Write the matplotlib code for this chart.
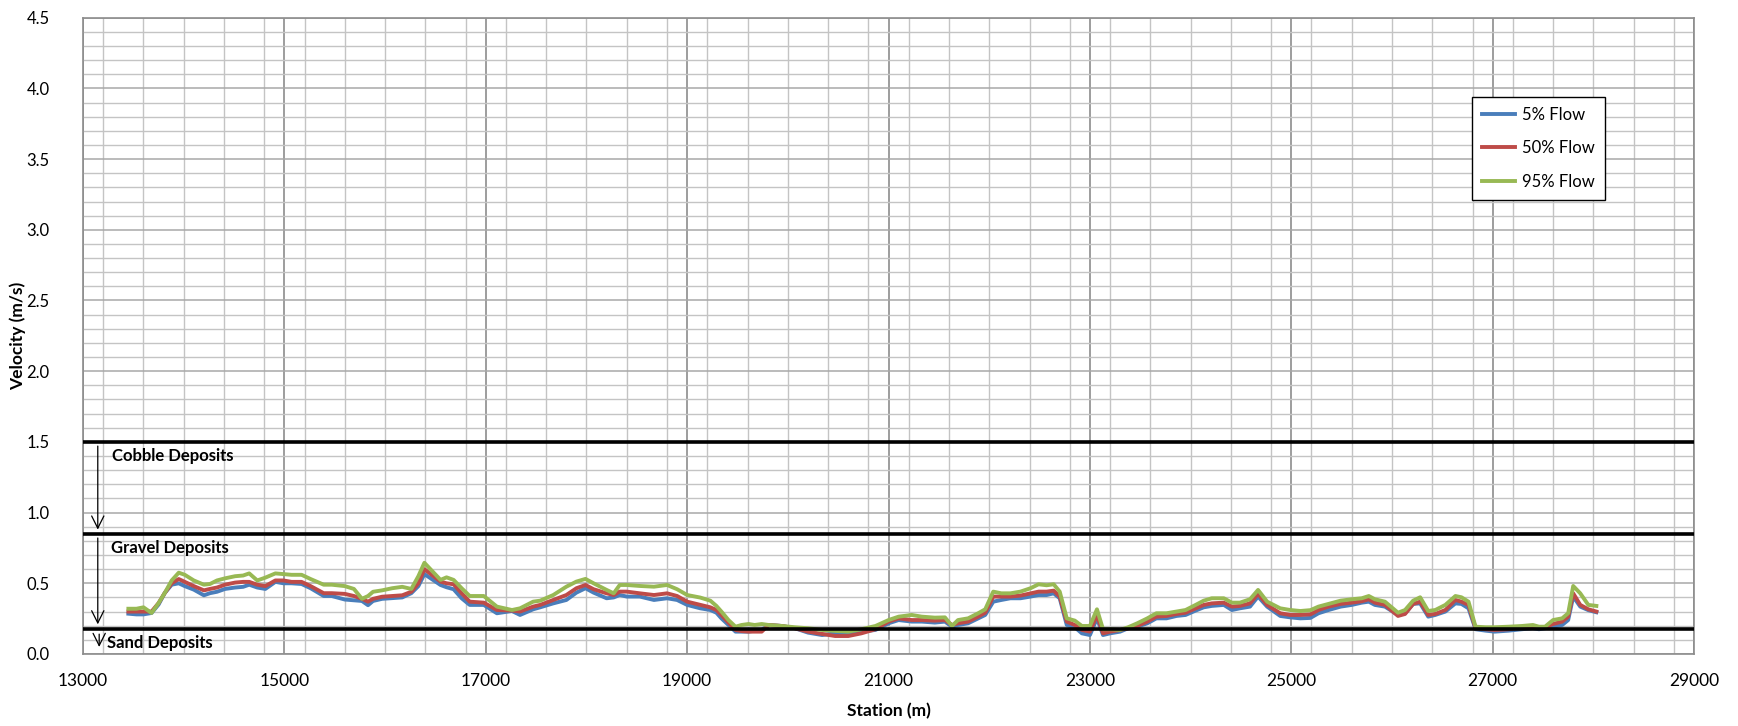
import numpy as np
import matplotlib
matplotlib.use("Agg")
import matplotlib.pyplot as plt
from matplotlib.ticker import MultipleLocator, FormatStrFormatter

plt.rcParams['font.family'] = ['Lato', 'DejaVu Sans']

# Estaciones (m) y velocidades (m/s)
estaciones = [13450, 13530, 13600, 13680, 13750, 13810, 13880, 13950, 14010, 14100,
              14200, 14260, 14330, 14410, 14510, 14590, 14650, 14730, 14810, 14910,
              14990, 15070, 15170, 15260, 15390, 15470, 15600, 15690, 15770, 15830,
              15880, 15970, 16070, 16170, 16260, 16330,
              16390, 16550, 16610, 16680, 16760, 16840, 16980, 17110, 17260, 17340,
              17470, 17540, 17670, 17800, 17900, 17990, 18070, 18200, 18270, 18330,
              18400, 18530, 18670, 18800, 18900, 19000, 19130, 19230, 19290,
              19340, 19410, 19480, 19540, 19610, 19670, 19740, 19810, 19940, 20070,
              20200, 20340, 20470, 20600, 20730, 20870, 21000, 21100, 21230, 21330,
              21460, 21560, 21630, 21690, 21790, 21890, 21960, 22040, 22120,
              22210, 22310, 22410, 22490, 22570, 22640, 22700, 22770, 22850, 22920,
              23000, 23070, 23130, 23200, 23300, 23380, 23470, 23570, 23660, 23760,
              23860, 23950, 24050, 24130, 24210, 24330, 24410, 24490, 24590, 24670,
              24760, 24890, 24990, 25090,
              25190, 25270, 25370, 25490, 25600, 25700, 25770, 25830, 25930, 26060,
              26130, 26210, 26280, 26360, 26430, 26530, 26630, 26690, 26760, 26830,
              26930, 27020, 27160, 27290, 27400, 27460, 27520, 27600, 27690, 27750,
              27800, 27870, 27950, 28030]

flow_5 = [0.285, 0.28, 0.28, 0.29, 0.35, 0.43, 0.49, 0.50, 0.48, 0.455,
          0.415, 0.43, 0.44, 0.46, 0.47, 0.475, 0.49, 0.47, 0.46, 0.51,
          0.50, 0.50, 0.495, 0.465, 0.41, 0.41, 0.385, 0.38, 0.375, 0.345,
          0.375, 0.39, 0.395, 0.40, 0.43, 0.48,
          0.565, 0.488, 0.472, 0.458, 0.394, 0.347, 0.347, 0.288, 0.304, 0.276,
          0.316, 0.33, 0.358, 0.382, 0.434, 0.465, 0.434, 0.394, 0.40, 0.417,
          0.406, 0.406, 0.382, 0.394, 0.382, 0.347, 0.323, 0.311, 0.292,
          0.252, 0.205, 0.158, 0.158, 0.158, 0.165, 0.17, 0.205, 0.198, 0.182,
          0.151, 0.134, 0.146, 0.146, 0.158, 0.17, 0.217, 0.24, 0.229, 0.229,
          0.222, 0.229, 0.193, 0.205, 0.217, 0.252, 0.276, 0.37, 0.382,
          0.394, 0.394, 0.406, 0.417, 0.417, 0.429, 0.394, 0.205, 0.189, 0.146,
          0.134, 0.252, 0.134, 0.146, 0.158, 0.182, 0.193, 0.217, 0.252, 0.252,
          0.269, 0.276, 0.307, 0.33, 0.34, 0.347, 0.311, 0.323, 0.335, 0.406,
          0.335, 0.269, 0.259, 0.252,
          0.255, 0.288, 0.311, 0.335, 0.347, 0.363, 0.37, 0.347, 0.335, 0.276,
          0.288, 0.354, 0.358, 0.264, 0.276, 0.30, 0.358, 0.354, 0.323, 0.175,
          0.165, 0.158, 0.165, 0.175, 0.182, 0.175, 0.182, 0.193, 0.205, 0.24,
          0.406, 0.335, 0.31, 0.295]

flow_50 = [0.30, 0.30, 0.30, 0.30, 0.36, 0.43, 0.50, 0.53, 0.51, 0.48,
           0.45, 0.46, 0.47, 0.49, 0.505, 0.51, 0.51, 0.49, 0.48, 0.52,
           0.52, 0.51, 0.51, 0.48, 0.43, 0.43, 0.425, 0.41, 0.39, 0.37,
           0.39, 0.405, 0.41, 0.415, 0.44, 0.50,
           0.60, 0.512, 0.50, 0.493, 0.429, 0.37, 0.363, 0.311, 0.307, 0.30,
           0.335, 0.347, 0.382, 0.417, 0.465, 0.488, 0.458, 0.429, 0.417, 0.441,
           0.441, 0.429, 0.417, 0.429, 0.41, 0.37, 0.347, 0.33, 0.311,
           0.276, 0.222, 0.17, 0.162, 0.158, 0.158, 0.158, 0.205, 0.198, 0.182,
           0.158, 0.142, 0.127, 0.127, 0.146, 0.175, 0.229, 0.252, 0.24, 0.24,
           0.236, 0.24, 0.205, 0.217, 0.229, 0.264, 0.292, 0.406, 0.406,
           0.406, 0.413, 0.429, 0.441, 0.441, 0.448, 0.406, 0.229, 0.205, 0.17,
           0.158, 0.276, 0.146, 0.158, 0.17, 0.182, 0.198, 0.229, 0.264, 0.269,
           0.283, 0.292, 0.323, 0.347, 0.358, 0.363, 0.335, 0.34, 0.358, 0.425,
           0.347, 0.288, 0.276, 0.276,
           0.28, 0.311, 0.335, 0.354, 0.363, 0.373, 0.387, 0.363, 0.347, 0.269,
           0.283, 0.354, 0.37, 0.276, 0.283, 0.311, 0.382, 0.37, 0.347, 0.182,
           0.175, 0.17, 0.175, 0.189, 0.193, 0.182, 0.189, 0.212, 0.229, 0.264,
           0.429, 0.347, 0.316, 0.30]

flow_95 = [0.32, 0.32, 0.33, 0.29, 0.36, 0.43, 0.52, 0.575, 0.56, 0.52,
           0.49, 0.495, 0.52, 0.535, 0.55, 0.555, 0.57, 0.52, 0.54, 0.57,
           0.565, 0.56, 0.56, 0.53, 0.49, 0.49, 0.48, 0.46, 0.39, 0.41,
           0.44, 0.45, 0.465, 0.475, 0.46, 0.55,
           0.645, 0.524, 0.542, 0.524, 0.465, 0.41, 0.41, 0.335, 0.311, 0.323,
           0.37, 0.377, 0.417, 0.476, 0.512, 0.531, 0.50, 0.453, 0.429, 0.488,
           0.488, 0.481, 0.476, 0.488, 0.458, 0.417, 0.399, 0.377, 0.34,
           0.30, 0.24, 0.193, 0.205, 0.212, 0.205, 0.212, 0.205, 0.198, 0.189,
           0.182, 0.17, 0.163, 0.158, 0.175, 0.198, 0.24, 0.264, 0.276, 0.264,
           0.257, 0.259, 0.198, 0.24, 0.252, 0.288, 0.316, 0.441, 0.429,
           0.429, 0.441, 0.465, 0.493, 0.486, 0.493, 0.441, 0.252, 0.236, 0.198,
           0.198, 0.316, 0.175, 0.175, 0.17, 0.189, 0.217, 0.252, 0.288, 0.288,
           0.30, 0.311, 0.347, 0.377, 0.394, 0.394, 0.363, 0.363, 0.387, 0.453,
           0.37, 0.323, 0.311, 0.304,
           0.31, 0.335, 0.354, 0.377, 0.387, 0.394, 0.41, 0.387, 0.37, 0.292,
           0.311, 0.377, 0.401, 0.304, 0.311, 0.347, 0.41, 0.401, 0.37, 0.193,
           0.189, 0.189, 0.193, 0.198, 0.205, 0.193, 0.193, 0.24, 0.252, 0.288,
           0.481, 0.429, 0.347, 0.34]

# Limites de depositos (m/s)
limites = [1.5, 0.85, 0.18]
x_ticks = [13000, 15000, 17000, 19000, 21000, 23000, 25000, 27000, 29000]
y_ticks = [0.0, 0.5, 1.0, 1.5, 2.0, 2.5, 3.0, 3.5, 4.0, 4.5]

fig = plt.figure(figsize=(17.38, 7.26), dpi=100)
ax = fig.add_axes([0.0478, 0.0992, 0.9269, 0.8764])

#--------------------Grilla estilo Excel-----------------------------
ax.set_xlim(13000, 29000)
ax.set_ylim(0, 4.5)
ax.set_xticks(x_ticks)
ax.set_yticks(y_ticks)
ax.xaxis.set_minor_locator(MultipleLocator(400))
ax.yaxis.set_minor_locator(MultipleLocator(0.1))
ax.yaxis.set_major_formatter(FormatStrFormatter('%.1f'))
ax.grid(which='major', axis='x', color='#8c8c8c', lw=1.2)
ax.grid(which='major', axis='y', color='#a8a8a8', lw=1.1)
ax.grid(which='minor', color='#c4c4c4', lw=1.0)
ax.set_axisbelow(True)
ax.tick_params(which='both', length=0)
ax.tick_params(axis='y', pad=24, labelsize=12)
ax.tick_params(axis='x', pad=14, labelsize=12.5)
for s in ax.spines.values():
    s.set_color('#8c8c8c')
    s.set_linewidth(1.2)

#--------------------Series------------------------------------------
ax.plot(estaciones, flow_5, color='#4a7ebb', lw=2.8, label='5% Flow', zorder=3)
ax.plot(estaciones, flow_50, color='#be4b48', lw=2.8, label='50% Flow', zorder=4)
ax.plot(estaciones, flow_95, color='#98b954', lw=2.8, label='95% Flow', zorder=5)

#--------------------Limites y flechas-------------------------------
for lim in limites:
    ax.axhline(lim, color='black', lw=2.6, zorder=6)

flecha = dict(arrowstyle='->', color='black', lw=0.9, mutation_scale=22)
ax.annotate('', xy=(13146, 0.86), xytext=(13146, 1.49), arrowprops=flecha, zorder=7)
ax.annotate('', xy=(13146, 0.19), xytext=(13146, 0.84), arrowprops=flecha, zorder=7)
ax.annotate('', xy=(13160, 0.03), xytext=(13160, 0.16), arrowprops=flecha, zorder=7)

ax.text(13285, 1.40, 'Cobble Deposits', fontsize=12, fontweight='bold', va='center')
ax.text(13275, 0.75, 'Gravel Deposits', fontsize=12, fontweight='bold', va='center')
ax.text(13235, 0.08, 'Sand Deposits', fontsize=12, fontweight='bold', va='center')

ax.set_xlabel('Station (m)', fontsize=12.5, fontweight='bold')
ax.xaxis.set_label_coords(0.5, -0.077)
ax.set_ylabel('Velocity (m/s)', fontsize=12.5, fontweight='bold', va='center')
ax.yaxis.set_label_coords(-0.0405, 0.5)

leg = ax.legend(loc='upper left', bbox_to_anchor=(0.857, 0.889), fontsize=12,
                fancybox=False, framealpha=1, edgecolor='black', handlelength=2.0,
                handletextpad=0.4, labelspacing=1.05, borderpad=0.6)
leg.get_frame().set_linewidth(1.0)

fig.savefig('out.png', dpi=100)
